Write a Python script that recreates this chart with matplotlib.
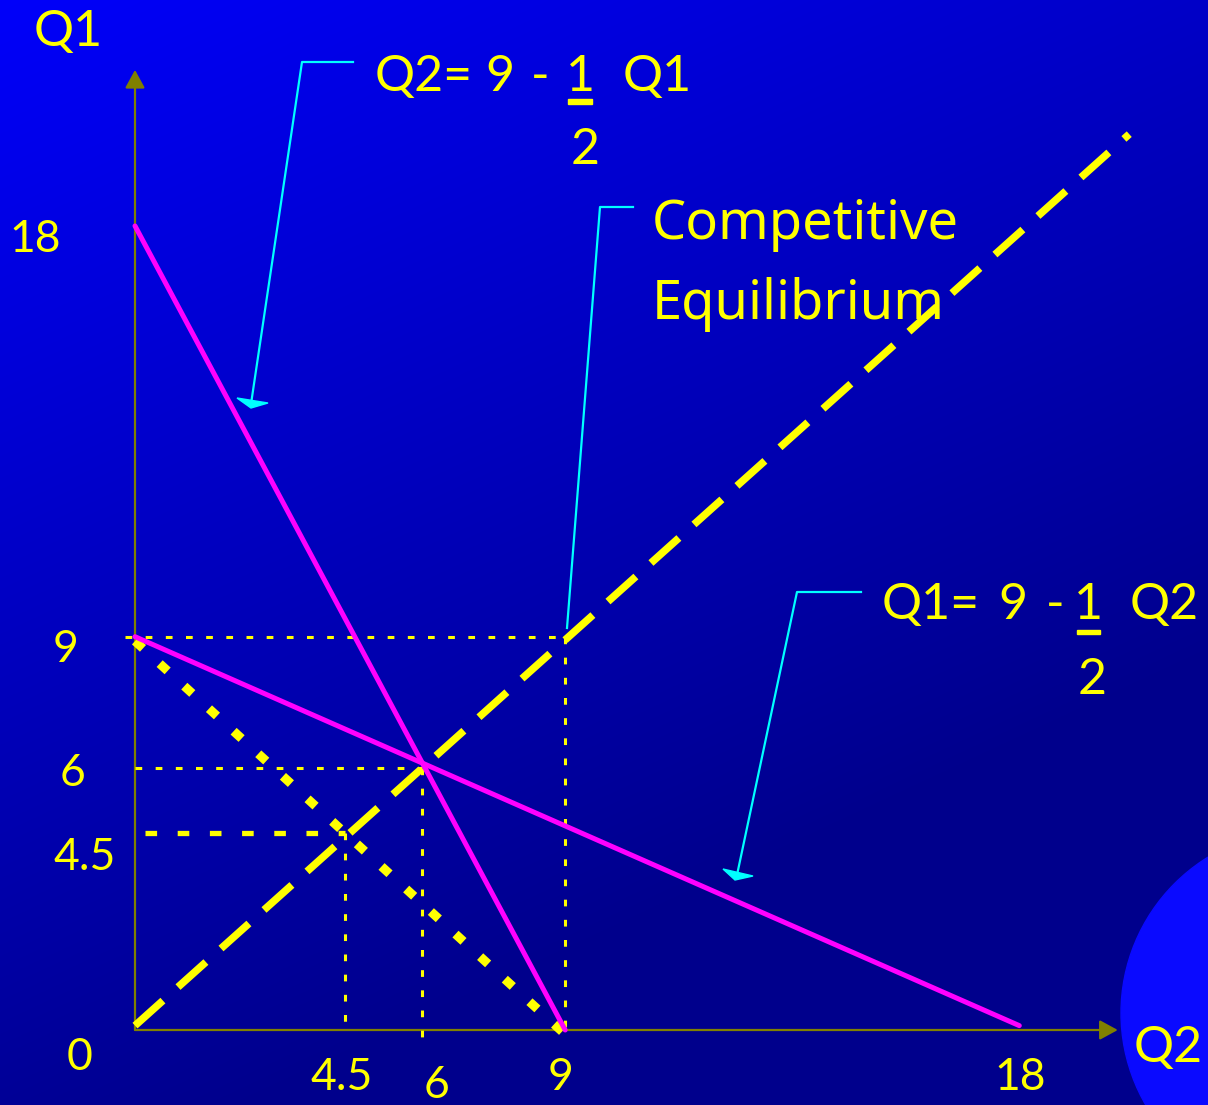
import numpy as np
import matplotlib.pyplot as plt
from matplotlib.patches import Ellipse, Polygon, Rectangle

# reaction curves and guides (Q2 on x, Q1 on y)
react_q2_x = [0, 9]          # Q2 = 9 - 1/2 Q1
react_q2_y = [18.4, 0]
react_q1_x = [0, 18.5]       # Q1 = 9 - 1/2 Q2
react_q1_y = [9, 0.1]
diag_x = [0, 20.8]           # 45 degree line
diag_y = [0.1, 20.5]
iso_x = [0, 9.1]             # dotted Q1 + Q2 = 9
iso_y = [8.9, -0.2]
half_x = [0.2, 4.4]          # dashed 4.5 level
half_y = [4.5, 4.5]

# dotted guide segments: (x0, x1, y0, y1)
guides = [
    (-0.2, 9, 9, 9), (9, 9, 9, -0.05),
    (0, 6, 6, 6), (6, 6, 6, -0.23),
    (4.4, 4.4, 4.5, 0.15),
]

y_tick_labels = ['18', '9', '6', '4.5', '0']
x_tick_labels = ['4.5', '6', '9', '18']

# pixel -> data mapping of the slide
X0, SX = 135, 47.8
Y0, SY = 1030, 43.7
W, H = 1208, 1105


def d(px, py):
    return (px - X0) / SX, (Y0 - py) / SY


fig = plt.figure(figsize=(W / 100, H / 100), dpi=100)
ax = fig.add_axes([0, 0, 1, 1])
ax.set_xlim(-X0 / SX, (W - X0) / SX)
ax.set_ylim((Y0 - H) / SY, Y0 / SY)
ax.axis('off')

# background gradient
gx, gy = np.meshgrid(np.arange(W), np.arange(H))
b = np.clip(250 - 0.042 * gx - 0.09 * gy, 140, 255) / 255
img = np.dstack([np.zeros_like(b), np.zeros_like(b), b])
ax.imshow(img, extent=[*ax.get_xlim(), *ax.get_ylim()],
          aspect='auto', zorder=0, origin='upper')

# decorative bright circle bottom right
cx, cy = d(1304, 1013)
ax.add_patch(Ellipse((cx, cy), 2 * 183 / SX, 2 * 183 / SY, color='#0a0aff', zorder=1))

olive = '#808000'
yellow = '#ffff00'
magenta = '#ff00ff'
cyan = '#00ffff'

# axes with arrows
for tip in [(0, 21.97), (20.56, 0)]:
    ax.annotate('', xy=tip, xytext=(0, 0),
                arrowprops=dict(arrowstyle='-|>,head_length=0.55,head_width=0.3',
                                color=olive, lw=1.6, shrinkA=0, shrinkB=0,
                                mutation_scale=20), zorder=2)

# dotted guides
for x0, x1, y0, y1 in guides:
    ax.plot([x0, x1], [y0, y1], color=yellow, lw=2.2,
            linestyle=(0, (2.2, 4.4)), dash_capstyle='butt', zorder=3)

ax.plot(half_x, half_y, color=yellow, lw=3.8, linestyle=(0, (2.2, 3.9)),
        dash_capstyle='butt', zorder=3)
ax.plot(iso_x, iso_y, color=yellow, lw=6.5, linestyle=(0, (1.2, 2.5)),
        dash_capstyle='butt', zorder=3)
ax.plot(diag_x, diag_y, color=yellow, lw=5.4, linestyle=(0, (5.0, 2.7)),
        dash_capstyle='butt', zorder=3)

ax.plot(react_q2_x, react_q2_y, color=magenta, lw=3.6, solid_capstyle='round', zorder=4)
ax.plot(react_q1_x, react_q1_y, color=magenta, lw=3.6, solid_capstyle='round', zorder=4)

# callouts
callouts = [
    ([(353, 62), (302, 62), (251, 404)], [(237, 398), (268, 403), (251, 408)]),
    ([(633, 207), (600, 207), (567, 628)], None),
    ([(861, 592), (797, 592), (737, 875)], [(723, 869), (753, 876), (735, 880)]),
]
for pts, head in callouts:
    xs, ys = zip(*[d(*p) for p in pts])
    ax.plot(xs, ys, color=cyan, lw=1.6, zorder=4)
    if head:
        ax.add_patch(Polygon([d(*p) for p in head], closed=True, color=cyan, zorder=4))

font = 'Lato'


def t(px, py, s, size=32, ha='center', family=font):
    x, y = d(px, py)
    ax.text(x, y, s, color=yellow, fontsize=size, ha=ha, va='center',
            family=family, zorder=5)


# tick labels
for s, (px, py) in zip(y_tick_labels, [(35, 240), (65, 650), (72, 773), (85, 857), (80, 1058)]):
    t(px, py, s)
for s, (px, py) in zip(x_tick_labels, [(342, 1078), (436, 1085), (560, 1078), (1020, 1078)]):
    t(px, py, s)

t(68, 32, 'Q1', size=36)
t(1168, 1048, 'Q2', size=36)

# equation 1
t(375, 77, 'Q2=', size=36, ha='left')
t(500, 77, '9', size=36)
t(540, 77, '-', size=36)
t(580, 77, '1', size=36)
t(623, 77, 'Q1', size=36, ha='left')
t(585, 150, '2', size=36)
# equation 2
t(882, 605, 'Q1=', size=36, ha='left')
t(1013, 605, '9', size=36)
t(1055, 605, '-', size=36)
t(1088, 605, '1', size=36)
t(1130, 605, 'Q2', size=36, ha='left')
t(1092, 680, '2', size=36)

for x0, x1, yy in [(568, 592, 102), (1077, 1100, 632)]:
    (a, b0), (c, _) = d(x0, yy), d(x1, yy)
    ax.add_patch(Rectangle((a, b0 - 2 / SY), c - a, 4.5 / SY, color=yellow, zorder=5))

t(652, 225, 'Competitive', size=39, ha='left', family='Noto Sans')
t(652, 305, 'Equilibrium', size=39, ha='left', family='Noto Sans')

fig.savefig('out.png', dpi=100)
